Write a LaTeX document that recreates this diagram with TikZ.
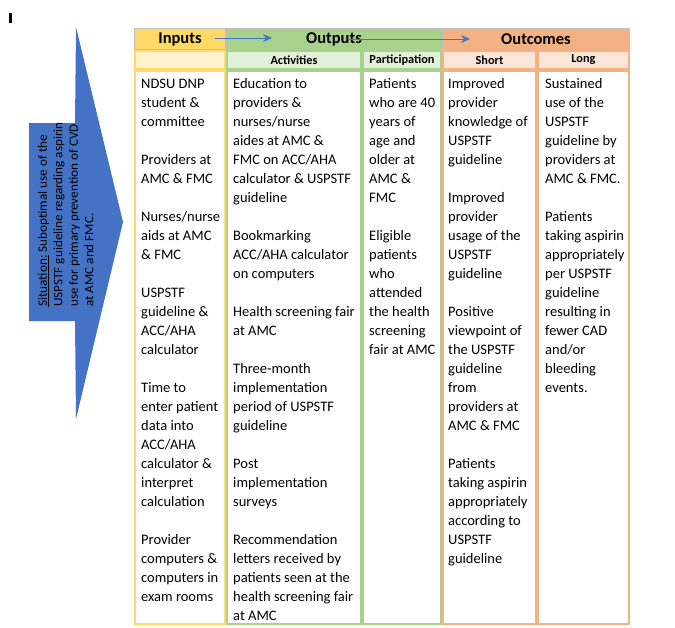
\documentclass[tikz,border=0pt]{standalone}
\usepackage{fontspec}
\setmainfont{Carlito}
\usetikzlibrary{arrows.meta}
\definecolor{SitBlue}{RGB}{68,114,196}
\definecolor{InGold}{RGB}{255,217,102}
\definecolor{InPale}{RGB}{255,242,204}
\definecolor{OutGreen}{RGB}{169,209,142}
\definecolor{OutPale}{RGB}{226,240,217}
\definecolor{OcOrange}{RGB}{244,177,131}
\definecolor{OcPale}{RGB}{251,229,214}
\definecolor{HeadGrey}{RGB}{191,191,191}
\tikzset{
  hcell/.style={draw=HeadGrey, line width=1pt, inner sep=0pt, minimum height=21pt,
    font=\fontsize{16.5}{19}\selectfont\bfseries},
  scell/.style={line width=1.5pt, inner sep=0pt, minimum height=18pt,
    font=\fontsize{12.3}{15}\selectfont\bfseries},
  bcell/.style={line width=1.6pt, fill=white},
  btext/.style={anchor=north west, inner sep=0pt, align=left, font=\fontsize{14.5}{19}\selectfont},
  sittext/.style={anchor=north west, inner sep=0pt, align=left, rotate=90, xscale=1.03,
    font=\fontsize{12.8}{15.5}\selectfont},
  flowarr/.style={-{Stealth[length=9pt,width=8pt]}, line width=1pt, SitBlue},
}
\begin{document}
\begin{tikzpicture}[x=1pt, y=-1pt]
  \useasboundingbox (0,0) rectangle (675,627);
  \fill (8.5,13) rectangle (11.5,23);

  % situation arrow
  \fill[SitBlue] (29,123) -- (75,123) -- (76,27) -- (123,222) -- (76,419) -- (75,321) -- (29,321) -- cycle;
  \node[sittext] (sit) at (35.7,307) {\strut\underline{Situation:} Suboptimal use of the\\
    USPSTF guideline regarding aspirin\\ use for primary prevention of CVD\\ at AMC and FMC.};

  % header row
  \node[hcell, fill=InGold, minimum width=91pt] (inhead) at (180,39) {Inputs};
  \node[hcell, fill=OutGreen, minimum width=215pt] (outhead) at (334,39) {Outputs};
  \node[hcell, fill=OcOrange, minimum width=187pt] (ochead) at (536,39) {Outcomes};

  % sub header row
  \node[scell, draw=InGold, fill=InPale, minimum width=90pt] (insub) at (180,60) {};
  \node[scell, draw=OutGreen, fill=OutPale, minimum width=134pt] (actsub) at (294,60) {Activities};
  \node[scell, draw=OutGreen, fill=OutPale, minimum width=78pt] (partsub) at (402,60) {Participation};
  \node[scell, draw=OcOrange, fill=OcPale, minimum width=93pt] (shortsub) at (489.5,60) {Short};
  \node[scell, draw=OcOrange, fill=OcPale, minimum width=91pt] (longsub) at (583.5,60) {Long};

  % body cells
  \draw[bcell, draw=InGold] (135,71) rectangle (225,624);
  \draw[bcell, draw=OutGreen] (227,71) rectangle (361,624);
  \draw[bcell, draw=OutGreen] (363,71) rectangle (441,624);
  \draw[bcell, draw=OcOrange] (443,71) rectangle (536,624);
  \draw[bcell, draw=OcOrange] (538,71) rectangle (629,624);

  \node[btext] (intxt) at (141,74.7) {\strut NDSU DNP\\ student \&\\ committee\\[19pt]
    Providers at\\ AMC \& FMC\\[19pt] Nurses/nurse\\ aids at AMC\\ \& FMC\\[19pt]
    USPSTF\\ guideline \&\\ ACC/AHA\\ calculator\\[19pt] Time to\\ enter patient\\ data into\\
    ACC/AHA\\ calculator \&\\ interpret\\ calculation\\[19pt] Provider\\ computers \&\\
    computers in\\ exam rooms};
  \node[btext] (acttxt) at (233,74.7) {\strut Education to\\ providers \&\\ nurses/nurse\\
    aides at AMC \&\\ FMC on ACC/AHA\\ calculator \& USPSTF\\ guideline\\[19pt] Bookmarking\\
    ACC/AHA calculator\\ on computers\\[19pt] Health screening fair\\ at AMC\\[19pt]
    Three-month\\ implementation\\ period of USPSTF\\ guideline\\[19pt] Post\\ implementation\\
    surveys\\[19pt] Recommendation\\ letters received by\\ patients seen at the\\
    health screening fair\\ at AMC};
  \node[btext] (parttxt) at (369,74.7) {\strut Patients\\ who are 40\\ years of\\ age and\\
    older at\\ AMC \&\\ FMC\\[19pt] Eligible\\ patients\\ who\\ attended\\ the health\\
    screening\\ fair at AMC};
  \node[btext] (shorttxt) at (448,74.7) {\strut Improved\\ provider\\ knowledge of\\ USPSTF\\
    guideline\\[19pt] Improved\\ provider\\ usage of the\\ USPSTF\\ guideline\\[19pt]
    Positive\\ viewpoint of\\ the USPSTF\\ guideline\\ from\\ providers at\\ AMC \& FMC\\[19pt]
    Patients\\ taking aspirin\\ appropriately\\ according to\\ USPSTF\\ guideline};
  \node[btext] (longtxt) at (545,74.7) {\strut Sustained\\ use of the\\ USPSTF\\ guideline by\\
    providers at\\ AMC \& FMC.\\[19pt] Patients\\ taking aspirin\\ appropriately\\ per USPSTF\\
    guideline\\ resulting in\\ fewer CAD\\ and/or\\ bleeding\\ events.};

  % flow arrows in header
  \coordinate (a1s) at (215,38);
  \coordinate (a1e) at (272,38);
  \coordinate (a2s) at (348,39);
  \coordinate (a2e) at (470,39);
  \draw[flowarr] (a1s) -- (a1e);
  \draw[flowarr] (a2s) -- (a2e);
\end{tikzpicture}
\end{document}
